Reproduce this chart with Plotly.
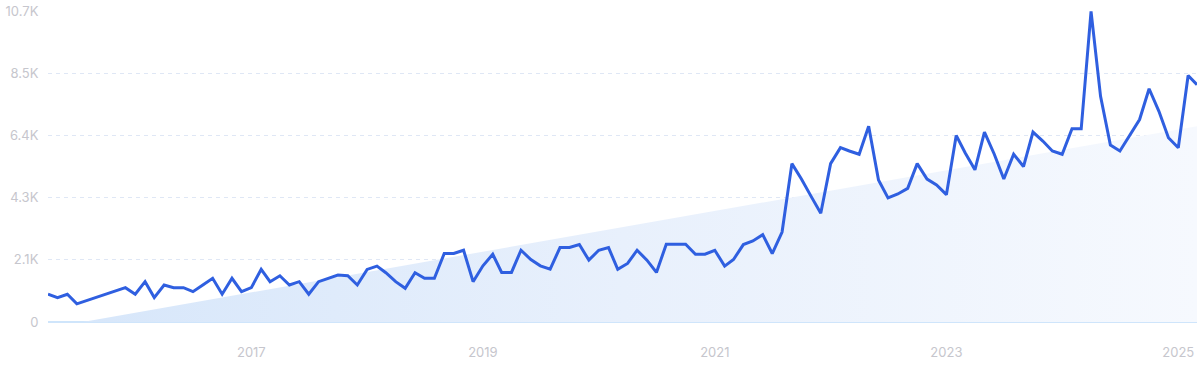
import pandas as pd
import plotly.graph_objects as go

# Monthly search volume, Apr 2015 .. Mar 2025 (None = no data, line bridges the gap)
months = pd.date_range("2015-04-01", "2025-03-01", freq="MS")
volume = [
    956, 840, 956, 625, None, None, None, None, 1182,                          # 2015 Apr-Dec
    956, 1387, 840, 1274, 1182, 1182, 1045, 1274, 1503, 956, 1503, 1045,       # 2016
    1182, 1810, 1387, 1591, 1274, 1387, 956, 1387, 1503, 1615, 1591, 1274,     # 2017
    1810, 1923, 1694, 1387, 1161, 1694, 1503, 1503, 2356, 2356, 2469, 1387,    # 2018
    1933, 2332, 1707, 1707, 2469, 2151, 1933, 1820, 2561, 2561, 2664, 2128,    # 2019
    2469, 2561, 1810, 2015, 2469, 2128, 1707, 2674, 2674, 2674, 2332, 2332,    # 2020
    2469, 1923, 2151, 2664, 2787, 3005, 2356, 3094, 5450, 4918, 4313, 3743,    # 2021
    5450, 5997, 5884, 5771, 6738, 4883, 4269, 4405, 4597, 5450, 4918, 4713,    # 2022
    4381, 6420, 5826, 5235, 6533, 5771, 4918, 5771, 5348, 6533, 6226, 5884,    # 2023
    5771, 6646, 6646, 10689, 7762, 6089, 5884, 6420, 6967, 8025, 7250, 6338,   # 2024
    5997, 8480, 8162,                                                          # 2025
]

# Linear trend (endpoints)
trend_dates = ["2015-04-01", "2025-03-01"]
trend_values = [-210, 6735]

# Axis ticks
y_tickvals = [0, 2140, 4280, 6420, 8560, 10700]
y_ticktext = ["0", "2.1K", "4.3K", "6.4K", "8.5K", "10.7K"]
x_tickvals = ["2017-01-01", "2019-01-01", "2021-01-01", "2023-01-01", "2025-01-01"]
x_ticktext = ["2017", "2019", "2021", "2023", "2025"]

fig = go.Figure()

fig.add_trace(go.Scatter(
    x=pd.to_datetime(trend_dates), y=trend_values,
    mode="lines", line=dict(width=0, color="rgba(0,0,0,0)"),
    fill="tozeroy",
    fillgradient=dict(type="horizontal",
                      colorscale=[[0, "rgba(214,230,250,1)"],
                                  [0.5, "rgba(232,240,252,1)"],
                                  [1, "rgba(246,249,254,1)"]]),
    hoverinfo="skip", showlegend=False,
))

fig.add_trace(go.Scatter(
    x=months, y=volume, mode="lines", connectgaps=True,
    line=dict(color="#2f5fe0", width=3),
    showlegend=False,
))

fig.update_layout(
    width=1200, height=371,
    margin=dict(l=48, r=3, t=9, b=49),
    paper_bgcolor="white", plot_bgcolor="white",
    font=dict(family="Inter, Roboto, sans-serif", size=13, color="#c6c6cd"),
    xaxis=dict(
        type="date",
        range=[months[0], months[-1]],
        tickvals=pd.to_datetime(x_tickvals), ticktext=x_ticktext,
        showgrid=False, zeroline=False, showline=False,
        ticks="outside", ticklen=18, tickcolor="rgba(0,0,0,0)",
        tickfont=dict(size=13, color="#c6c6cd"),
    ),
    yaxis=dict(
        range=[0, 10700],
        tickvals=y_tickvals, ticktext=y_ticktext,
        showgrid=True, gridcolor="#dfe7f5", griddash="4px,4px", gridwidth=1,
        zeroline=True, zerolinecolor="#cfe5fb", zerolinewidth=1.5,
        showline=False,
        ticks="outside", ticklen=6, tickcolor="rgba(0,0,0,0)",
        tickfont=dict(size=13, color="#c6c6cd"),
    ),
)

fig.write_html("out.html", config={"displayModeBar": False},
               post_script="document.body.style.margin='0';")
